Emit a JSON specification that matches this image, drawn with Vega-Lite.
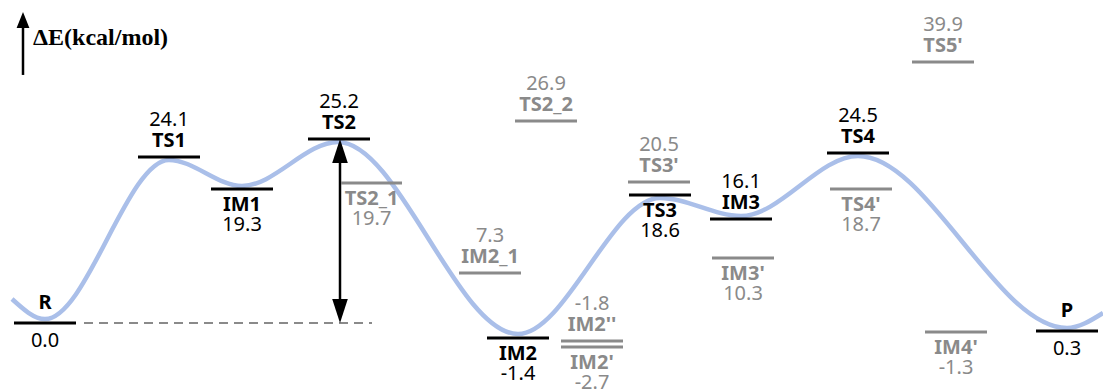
{
  "$schema": "https://vega.github.io/schema/vega-lite/v6.json",
  "width": 1103,
  "height": 392,
  "padding": 0,
  "autosize": {"type": "none"},
  "background": "white",
  "config": {"view": {"stroke": null}},
  "datasets": {
    "states": [
      {"name": "R", "energy": "0.0", "x1": 14, "x2": 76, "level": 0, "grp": "main", "nameSide": "aboveFar", "valSide": "nearBelow"},
      {"name": "TS1", "energy": "24.1", "x1": 138, "x2": 200, "level": 22.62, "grp": "main", "nameSide": "above", "valSide": "above"},
      {"name": "IM1", "energy": "19.3", "x1": 211, "x2": 273, "level": 18.26, "grp": "main", "nameSide": "below", "valSide": "below"},
      {"name": "TS2", "energy": "25.2", "x1": 308, "x2": 370, "level": 25.07, "grp": "main", "nameSide": "above", "valSide": "above"},
      {"name": "TS2_1", "energy": "19.7", "x1": 341, "x2": 402, "level": 19.07, "grp": "alt", "nameSide": "below", "valSide": "below"},
      {"name": "IM2_1", "energy": "7.3", "x1": 459, "x2": 521, "level": 6.81, "grp": "alt", "nameSide": "above", "valSide": "above"},
      {"name": "TS2_2", "energy": "26.9", "x1": 515, "x2": 577, "level": 27.52, "grp": "alt", "nameSide": "above", "valSide": "above"},
      {"name": "IM2", "energy": "-1.4", "x1": 487, "x2": 549, "level": -2.04, "grp": "main", "nameSide": "below", "valSide": "below"},
      {"name": "IM2''", "energy": "-1.8", "x1": 561, "x2": 623, "level": -2.45, "grp": "alt", "nameSide": "above", "valSide": "above"},
      {"name": "IM2'", "energy": "-2.7", "x1": 561, "x2": 623, "level": -3.27, "grp": "alt", "nameSide": "below", "valSide": "below"},
      {"name": "TS3'", "energy": "20.5", "x1": 628, "x2": 690, "level": 19.21, "grp": "alt", "nameSide": "above", "valSide": "above"},
      {"name": "TS3", "energy": "18.6", "x1": 629, "x2": 691, "level": 17.44, "grp": "main", "nameSide": "below", "valSide": "below"},
      {"name": "IM3", "energy": "16.1", "x1": 710, "x2": 772, "level": 14.17, "grp": "main", "nameSide": "above", "valSide": "above"},
      {"name": "IM3'", "energy": "10.3", "x1": 712, "x2": 774, "level": 8.86, "grp": "alt", "nameSide": "below", "valSide": "below"},
      {"name": "TS4", "energy": "24.5", "x1": 827, "x2": 889, "level": 23.16, "grp": "main", "nameSide": "above", "valSide": "above"},
      {"name": "TS4'", "energy": "18.7", "x1": 830, "x2": 892, "level": 18.26, "grp": "alt", "nameSide": "below", "valSide": "below"},
      {"name": "TS5'", "energy": "39.9", "x1": 912, "x2": 974, "level": 35.56, "grp": "alt", "nameSide": "above", "valSide": "above"},
      {"name": "IM4'", "energy": "-1.3", "x1": 925, "x2": 987, "level": -1.23, "grp": "alt", "nameSide": "below", "valSide": "below"},
      {"name": "P", "energy": "0.3", "x1": 1036, "x2": 1098, "level": -1.09, "grp": "main", "nameSide": "aboveFar", "valSide": "nearBelow"}
    ],
    "curve": [
      {"x": 12, "level": 3.27},
      {"x": 45, "level": 0.54},
      {"x": 169, "level": 22.21},
      {"x": 242, "level": 18.66},
      {"x": 338, "level": 24.66},
      {"x": 518, "level": -1.5},
      {"x": 660, "level": 17.03},
      {"x": 741, "level": 14.58},
      {"x": 858, "level": 22.75},
      {"x": 1067, "level": -0.68},
      {"x": 1103, "level": 1.36}
    ],
    "guides": [
      {"kind": "dash", "x": 84, "x2": 372, "level": 0, "level2": 0},
      {"kind": "barrier", "x": 340, "x2": 340, "level": 0.8, "level2": 24.3},
      {"kind": "axis", "x": 23, "x2": 23, "level": 33.79, "level2": 41.0}
    ],
    "heads": [
      {"kind": "up", "x": 340, "level": 25.07},
      {"kind": "down", "x": 340, "level": 0},
      {"kind": "axis", "x": 23, "level": 42.37}
    ],
    "title": [
      {"text": "ΔE(kcal/mol)", "x": 33, "level": 38.83}
    ]
  },
  "layer": [
    {
      "data": {"name": "curve"},
      "mark": {"type": "line", "interpolate": "monotone", "color": "#aabfe9", "strokeWidth": 4.5, "strokeCap": "butt"},
      "encoding": {
        "x": {"field": "x", "type": "quantitative", "scale": {"domain": [0, 1103], "nice": false, "zero": false}, "axis": null},
        "y": {"field": "level", "type": "quantitative", "scale": {"domain": [-9.4, 44.0], "nice": false, "zero": false}, "axis": null}
      }
    },
    {
      "data": {"name": "guides"},
      "transform": [{"filter": "datum.kind === 'dash'"}],
      "mark": {"type": "rule", "color": "#8a8a8a", "strokeWidth": 2, "strokeDash": [9, 6]},
      "encoding": {
        "x": {"field": "x", "type": "quantitative", "scale": {"domain": [0, 1103], "nice": false, "zero": false}, "axis": null},
        "x2": {"field": "x2"},
        "y": {"field": "level", "type": "quantitative", "scale": {"domain": [-9.4, 44.0], "nice": false, "zero": false}, "axis": null}
      }
    },
    {
      "data": {"name": "guides"},
      "transform": [{"filter": "datum.kind !== 'dash'"}],
      "mark": {"type": "rule", "color": "#000000", "strokeWidth": 2.5},
      "encoding": {
        "x": {"field": "x", "type": "quantitative", "scale": {"domain": [0, 1103], "nice": false, "zero": false}, "axis": null},
        "y": {"field": "level", "type": "quantitative", "scale": {"domain": [-9.4, 44.0], "nice": false, "zero": false}, "axis": null},
        "y2": {"field": "level2"}
      }
    },
    {
      "data": {"name": "heads"},
      "transform": [{"filter": "datum.kind === 'up'"}],
      "mark": {"type": "point", "shape": "M0,0L0.65,2L-0.65,2Z", "size": 576, "filled": true, "color": "#000000", "opacity": 1},
      "encoding": {
        "x": {"field": "x", "type": "quantitative", "scale": {"domain": [0, 1103], "nice": false, "zero": false}, "axis": null},
        "y": {"field": "level", "type": "quantitative", "scale": {"domain": [-9.4, 44.0], "nice": false, "zero": false}, "axis": null}
      }
    },
    {
      "data": {"name": "heads"},
      "transform": [{"filter": "datum.kind === 'down'"}],
      "mark": {"type": "point", "shape": "M0,0L0.65,-2L-0.65,-2Z", "size": 576, "filled": true, "color": "#000000", "opacity": 1},
      "encoding": {
        "x": {"field": "x", "type": "quantitative", "scale": {"domain": [0, 1103], "nice": false, "zero": false}, "axis": null},
        "y": {"field": "level", "type": "quantitative", "scale": {"domain": [-9.4, 44.0], "nice": false, "zero": false}, "axis": null}
      }
    },
    {
      "data": {"name": "heads"},
      "transform": [{"filter": "datum.kind === 'axis'"}],
      "mark": {"type": "point", "shape": "M0,0L0.8,2L-0.8,2Z", "size": 256, "filled": true, "color": "#000000", "opacity": 1},
      "encoding": {
        "x": {"field": "x", "type": "quantitative", "scale": {"domain": [0, 1103], "nice": false, "zero": false}, "axis": null},
        "y": {"field": "level", "type": "quantitative", "scale": {"domain": [-9.4, 44.0], "nice": false, "zero": false}, "axis": null}
      }
    },
    {
      "data": {"name": "states"},
      "mark": {"type": "rule", "strokeWidth": 3},
      "encoding": {
        "x": {"field": "x1", "type": "quantitative", "scale": {"domain": [0, 1103], "nice": false, "zero": false}, "axis": null},
        "x2": {"field": "x2"},
        "y": {"field": "level", "type": "quantitative", "scale": {"domain": [-9.4, 44.0], "nice": false, "zero": false}, "axis": null},
        "color": {"field": "grp", "type": "nominal", "scale": {"domain": ["main", "alt"], "range": ["#000000", "#8a8a8a"]}, "legend": null}
      }
    },
    {
      "data": {"name": "title"},
      "mark": {"type": "text", "font": "Liberation Serif", "fontWeight": "bold", "fontSize": 24, "align": "left", "baseline": "middle", "color": "#000000"},
      "encoding": {
        "x": {"field": "x", "type": "quantitative", "scale": {"domain": [0, 1103], "nice": false, "zero": false}, "axis": null},
        "y": {"field": "level", "type": "quantitative", "scale": {"domain": [-9.4, 44.0], "nice": false, "zero": false}, "axis": null},
        "text": {"field": "text"}
      }
    },
    {
      "data": {"name": "states"},
      "transform": [{"filter": "datum.nameSide === 'above'"}, {"calculate": "(datum.x1 + datum.x2) / 2", "as": "xm"}],
      "mark": {"type": "text", "font": "Noto Sans", "fontWeight": "bold", "fontSize": 20, "align": "center", "baseline": "middle", "dy": -16},
      "encoding": {
        "x": {"field": "xm", "type": "quantitative", "scale": {"domain": [0, 1103], "nice": false, "zero": false}, "axis": null},
        "y": {"field": "level", "type": "quantitative", "scale": {"domain": [-9.4, 44.0], "nice": false, "zero": false}, "axis": null},
        "text": {"field": "name"},
        "color": {"field": "grp", "type": "nominal", "scale": {"domain": ["main", "alt"], "range": ["#000000", "#8a8a8a"]}, "legend": null}
      }
    },
    {
      "data": {"name": "states"},
      "transform": [{"filter": "datum.nameSide === 'aboveFar'"}, {"calculate": "(datum.x1 + datum.x2) / 2", "as": "xm"}],
      "mark": {"type": "text", "font": "Noto Sans", "fontWeight": "bold", "fontSize": 20, "align": "center", "baseline": "middle", "dy": -20},
      "encoding": {
        "x": {"field": "xm", "type": "quantitative", "scale": {"domain": [0, 1103], "nice": false, "zero": false}, "axis": null},
        "y": {"field": "level", "type": "quantitative", "scale": {"domain": [-9.4, 44.0], "nice": false, "zero": false}, "axis": null},
        "text": {"field": "name"},
        "color": {"field": "grp", "type": "nominal", "scale": {"domain": ["main", "alt"], "range": ["#000000", "#8a8a8a"]}, "legend": null}
      }
    },
    {
      "data": {"name": "states"},
      "transform": [{"filter": "datum.nameSide === 'below'"}, {"calculate": "(datum.x1 + datum.x2) / 2", "as": "xm"}],
      "mark": {"type": "text", "font": "Noto Sans", "fontWeight": "bold", "fontSize": 20, "align": "center", "baseline": "middle", "dy": 16},
      "encoding": {
        "x": {"field": "xm", "type": "quantitative", "scale": {"domain": [0, 1103], "nice": false, "zero": false}, "axis": null},
        "y": {"field": "level", "type": "quantitative", "scale": {"domain": [-9.4, 44.0], "nice": false, "zero": false}, "axis": null},
        "text": {"field": "name"},
        "color": {"field": "grp", "type": "nominal", "scale": {"domain": ["main", "alt"], "range": ["#000000", "#8a8a8a"]}, "legend": null}
      }
    },
    {
      "data": {"name": "states"},
      "transform": [{"filter": "datum.valSide === 'above'"}, {"calculate": "(datum.x1 + datum.x2) / 2", "as": "xm"}],
      "mark": {"type": "text", "font": "Noto Sans", "fontSize": 20, "align": "center", "baseline": "middle", "dy": -37},
      "encoding": {
        "x": {"field": "xm", "type": "quantitative", "scale": {"domain": [0, 1103], "nice": false, "zero": false}, "axis": null},
        "y": {"field": "level", "type": "quantitative", "scale": {"domain": [-9.4, 44.0], "nice": false, "zero": false}, "axis": null},
        "text": {"field": "energy"},
        "color": {"field": "grp", "type": "nominal", "scale": {"domain": ["main", "alt"], "range": ["#000000", "#8a8a8a"]}, "legend": null}
      }
    },
    {
      "data": {"name": "states"},
      "transform": [{"filter": "datum.valSide === 'below'"}, {"calculate": "(datum.x1 + datum.x2) / 2", "as": "xm"}],
      "mark": {"type": "text", "font": "Noto Sans", "fontSize": 20, "align": "center", "baseline": "middle", "dy": 36},
      "encoding": {
        "x": {"field": "xm", "type": "quantitative", "scale": {"domain": [0, 1103], "nice": false, "zero": false}, "axis": null},
        "y": {"field": "level", "type": "quantitative", "scale": {"domain": [-9.4, 44.0], "nice": false, "zero": false}, "axis": null},
        "text": {"field": "energy"},
        "color": {"field": "grp", "type": "nominal", "scale": {"domain": ["main", "alt"], "range": ["#000000", "#8a8a8a"]}, "legend": null}
      }
    },
    {
      "data": {"name": "states"},
      "transform": [{"filter": "datum.valSide === 'nearBelow'"}, {"calculate": "(datum.x1 + datum.x2) / 2", "as": "xm"}],
      "mark": {"type": "text", "font": "Noto Sans", "fontSize": 20, "align": "center", "baseline": "middle", "dy": 18},
      "encoding": {
        "x": {"field": "xm", "type": "quantitative", "scale": {"domain": [0, 1103], "nice": false, "zero": false}, "axis": null},
        "y": {"field": "level", "type": "quantitative", "scale": {"domain": [-9.4, 44.0], "nice": false, "zero": false}, "axis": null},
        "text": {"field": "energy"},
        "color": {"field": "grp", "type": "nominal", "scale": {"domain": ["main", "alt"], "range": ["#000000", "#8a8a8a"]}, "legend": null}
      }
    }
  ]
}
